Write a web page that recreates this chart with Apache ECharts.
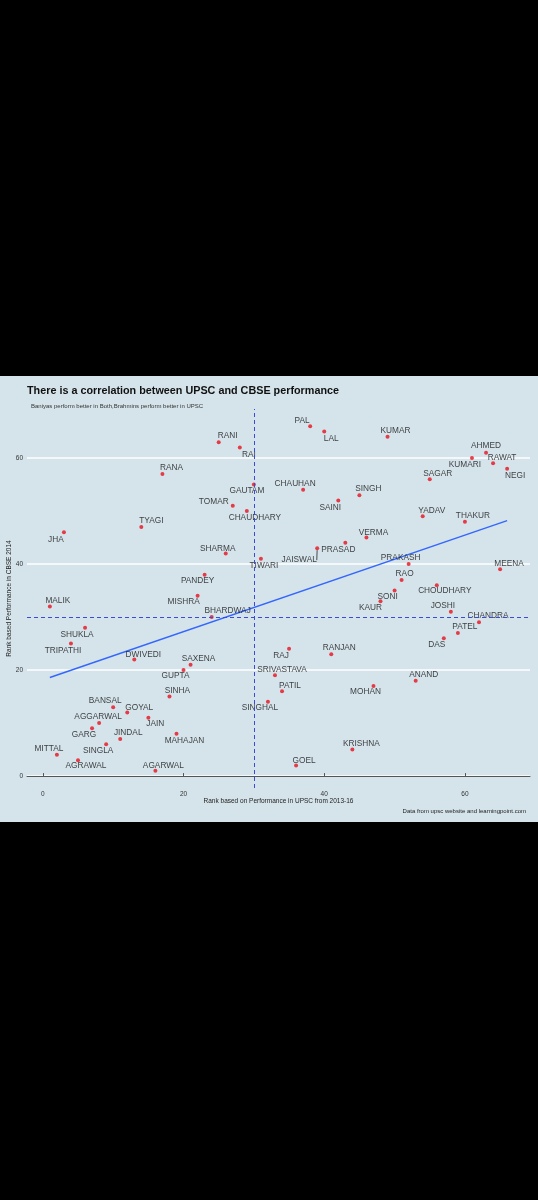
<!DOCTYPE html>
<html>
<head>
<meta charset="utf-8">
<script src="https://cdn.jsdelivr.net/npm/echarts@6/dist/echarts.min.js"></script>
<style>
  html, body { margin: 0; padding: 0; background: #000; }
  #box { position: absolute; left: 0; top: 376px; width: 538px; height: 446px; }
</style>
</head>
<body>
<div id="box"></div>
<script>
// surnames, ordered by UPSC rank
var names = ['MALIK','MITTAL','JHA','TRIPATHI','AGRAWAL','SHUKLA','GARG','AGGARWAL','SINGLA','BANSAL',
  'JINDAL','GOYAL','DWIVEDI','TYAGI','JAIN','AGARWAL','RANA','SINHA','MAHAJAN','GUPTA',
  'SAXENA','MISHRA','PANDEY','BHARDWAJ','RANI','SHARMA','TOMAR','RAI','CHAUDHARY','GAUTAM',
  'TIWARI','SINGHAL','SRIVASTAVA','PATIL','RAJ','GOEL','CHAUHAN','PAL','JAISWAL','LAL',
  'RANJAN','SAINI','PRASAD','KRISHNA','SINGH','VERMA','MOHAN','KAUR','KUMAR','SONI',
  'RAO','PRAKASH','ANAND','YADAV','SAGAR','CHOUDHARY','DAS','JOSHI','PATEL','THAKUR',
  'KUMARI','CHANDRA','AHMED','RAWAT','MEENA','NEGI'];
var upscRank = [1,2,3,4,5,6,7,8,9,10,11,12,13,14,15,16,17,18,19,20,21,22,23,24,25,26,27,28,29,30,
  31,32,33,34,35,36,37,38,39,40,41,42,43,44,45,46,47,48,49,50,51,52,53,54,55,56,57,58,59,60,
  61,62,63,64,65,66];
var cbseRank = [32,4,46,25,3,28,9,10,6,13,7,12,22,47,11,1,57,15,8,20,21,34,38,30,63,42,51,62,50,55,
  41,14,19,16,24,2,54,66,43,65,23,52,44,5,53,45,17,33,64,35,37,40,18,49,56,36,26,31,27,48,
  60,29,61,59,39,58];
// fitted line end points
var fitX = [1, 66];
var fitY = [18.6, 48.2];
var tickValues = [0, 20, 40, 60];

// label nudges (px) so the labels sit where they do in the original
var nudge = [[8,-6],[-8,-6],[-8,7],[-8,7],[8,6],[-8,7],[-8,6],[-1,-6],[-8,6],[-8,-6],
  [8,-6],[12,-5],[9,-5],[10,-6],[7,6],[8,-5],[9,-6],[8,-6],[8,7],[-8,6],
  [8,-6],[-14,6],[-7,6],[16,-6],[9,-6],[-8,-5],[-19,-4],[9,7],[8,7],[-7,6],
  [3,7],[-8,6],[7,-6],[8,-6],[-8,7],[8,-5],[-8,-6],[-8,-6],[-18,12],[7,7],
  [8,-6],[-8,7],[-7,7],[9,-6],[9,-6],[7,-5],[-8,6],[-10,7],[8,-6],[-7,6],
  [3,-6],[-8,-6],[8,-6],[9,-6],[8,-6],[8,5],[-7,6],[-8,-6],[7,-6],[8,-6],
  [-7,7],[9,-7],[0,-7],[9,-6],[9,-6],[8,7]];

var points = names.map(function (n, i) {
  var item = { name: n, value: [upscRank[i], cbseRank[i]] };
  if (n === 'JAISWAL') item.labelLine = { show: true, lineStyle: { color: '#222', width: 0.8 } };
  return item;
});

var chart = echarts.init(document.getElementById('box'));
var option = {
  backgroundColor: '#d5e4eb',
  animation: false,
  textStyle: { fontFamily: 'Liberation Sans' },
  title: [
    { text: 'There is a correlation between UPSC and CBSE performance', left: 22, top: 5,
      textStyle: { fontSize: 10.8, fontWeight: 'bold', color: '#111', fontFamily: 'Liberation Sans' } },
    { text: 'Baniyas perform better in Both,Brahmins perform better in UPSC', left: 26, top: 22,
      textStyle: { fontSize: 6, fontWeight: 'normal', color: '#333', fontFamily: 'Liberation Sans' } },
    { text: 'Data from upsc website and learningpoint.com', right: 7, top: 427,
      textStyle: { fontSize: 6, fontWeight: 'normal', color: '#222', fontFamily: 'Liberation Sans' } }
  ],
  grid: { left: 27, right: 8, top: 33, bottom: 34, outerBoundsMode: 'none', containLabel: false },
  xAxis: {
    type: 'value', min: -2.25, max: 69.25,
    name: 'Rank based on Performance in UPSC from 2013-16',
    nameLocation: 'middle', nameGap: 10, nameMoveOverlap: false,
    nameTextStyle: { fontSize: 6.5, color: '#222' },
    axisLine: { show: true, lineStyle: { color: '#555', width: 1 } },
    axisTick: { show: true, inside: true, length: 3, customValues: tickValues, lineStyle: { color: '#555' } },
    axisLabel: { customValues: tickValues, fontSize: 6.5, color: '#333', margin: 3 },
    splitLine: { show: false }
  },
  yAxis: {
    type: 'value', min: -2.25, max: 69.25,
    name: 'Rank based Performance in CBSE 2014',
    nameLocation: 'middle', nameGap: 14, nameMoveOverlap: false,
    nameTextStyle: { fontSize: 6.5, color: '#222' },
    axisLine: { show: false },
    axisTick: { show: false, customValues: tickValues },
    axisLabel: { customValues: tickValues, fontSize: 6.5, color: '#333', margin: 4 },
    splitLine: { show: true, lineStyle: { color: '#ffffff', width: 1.6 } }
  },
  series: [
    {
      type: 'line',
      data: fitX.map(function (x, i) { return [x, fitY[i]]; }),
      showSymbol: false,
      lineStyle: { color: '#3366ff', width: 1.4 },
      z: 3
    },
    {
      type: 'scatter',
      data: points,
      symbolSize: 4,
      itemStyle: { color: '#e8101e' },
      label: {
        show: true, position: 'inside',
        formatter: '{b}', fontSize: 8.3, color: '#111',
        fontFamily: 'Liberation Sans'
      },
      labelLayout: function (p) {
        return { dx: nudge[p.dataIndex][0], dy: nudge[p.dataIndex][1], hideOverlap: false };
      },
      markLine: {
        silent: true, symbol: 'none',
        label: { show: false },
        lineStyle: { color: '#3b4bd6', type: [4, 3], width: 1 },
        data: [{ xAxis: 30 }, { yAxis: 30 }]
      },
      z: 4
    }
  ]
};
chart.setOption(option);
</script>
</body>
</html>
